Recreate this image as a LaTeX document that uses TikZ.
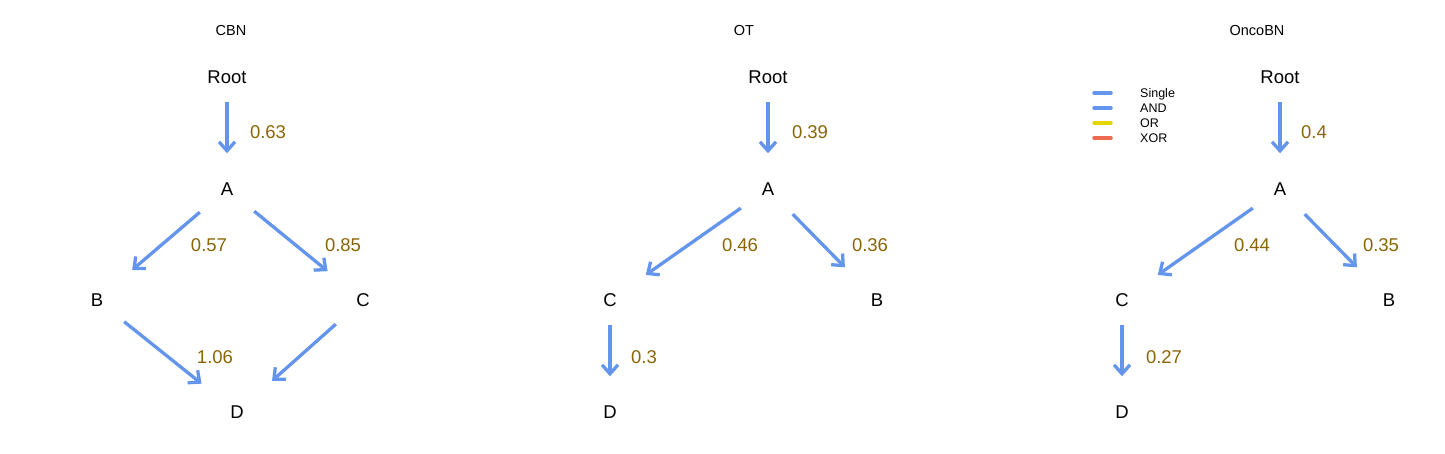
\documentclass[tikz,border=0pt]{standalone}
\usepackage{fontspec}
\setmainfont{Liberation Sans}
\usetikzlibrary{arrows.meta}
\definecolor{edgeblue}{HTML}{6495ED}
\definecolor{lblbrown}{HTML}{8B6508}
\definecolor{oryellow}{HTML}{E5D500}
\definecolor{xorred}{HTML}{EE6A50}
\begin{document}
\begin{tikzpicture}[x=1pt,y=-1pt,
  gnode/.style={rectangle,draw=none,minimum width=54pt,minimum height=50pt,inner sep=0pt,font=\fontsize{18.5}{20}\selectfont},
  edge/.style={draw=edgeblue,line width=3.3pt,shorten >=10.5pt,-{Straight Barb[length=9pt,width=16pt,line width=3.3pt]}},
  elabel/.style={text=lblbrown,font=\fontsize{18.5}{20}\selectfont},
  ptitle/.style={font=\fontsize{14.5}{16}\selectfont},
  legline/.style={line width=3.5pt,line cap=round},
  legtext/.style={anchor=base west,font=\fontsize{12.5}{14}\selectfont,inner sep=0pt}]
\useasboundingbox (0,0) rectangle (1445,454);
% ---------- CBN ----------
\node[ptitle] (t1) at (231,31) {CBN};
\node[gnode] (r1) at (227,77) {Root};
\node[gnode] (a1) at (227,189) {A};
\node[gnode] (b1) at (97,300) {B};
\node[gnode] (c1) at (363,300) {C};
\node[gnode] (d1) at (237,412) {D};
\draw[edge] (r1) -- (a1);
\draw[edge] (a1) -- (b1);
\draw[edge] (a1) -- (c1);
\draw[edge] (b1) -- (d1);
\draw[edge] (c1) -- (d1);
\node[elabel] (l1a) at (268,132) {0.63};
\node[elabel] (l1b) at (209,245) {0.57};
\node[elabel] (l1c) at (343,245) {0.85};
\node[elabel] (l1d) at (215,357) {1.06};
% ---------- OT ----------
\node[ptitle] (t2) at (744,31) {OT};
\node[gnode] (r2) at (768,77) {Root};
\node[gnode] (a2) at (768,189) {A};
\node[gnode] (c2) at (610,300) {C};
\node[gnode] (b2) at (877,300) {B};
\node[gnode] (d2) at (610,412) {D};
\draw[edge] (r2) -- (a2);
\draw[edge] (a2) -- (c2);
\draw[edge] (a2) -- (b2);
\draw[edge] (c2) -- (d2);
\node[elabel] (l2a) at (810,132) {0.39};
\node[elabel] (l2b) at (740,245) {0.46};
\node[elabel] (l2c) at (870,245) {0.36};
\node[elabel] (l2d) at (644,357) {0.3};
% ---------- OncoBN ----------
\node[ptitle] (t3) at (1257,31) {OncoBN};
\node[gnode] (r3) at (1280,77) {Root};
\node[gnode] (a3) at (1280,189) {A};
\node[gnode] (c3) at (1122,300) {C};
\node[gnode] (b3) at (1389,300) {B};
\node[gnode] (d3) at (1122,412) {D};
\draw[edge] (r3) -- (a3);
\draw[edge] (a3) -- (c3);
\draw[edge] (a3) -- (b3);
\draw[edge] (c3) -- (d3);
\node[elabel] (l3a) at (1314,132) {0.4};
\node[elabel] (l3b) at (1252,245) {0.44};
\node[elabel] (l3c) at (1381,245) {0.35};
\node[elabel] (l3d) at (1164,357) {0.27};
% ---------- legend ----------
\coordinate (g1a) at (1094,93);  \coordinate (g1b) at (1111,93);
\coordinate (g2a) at (1094,108); \coordinate (g2b) at (1111,108);
\coordinate (g3a) at (1094,123); \coordinate (g3b) at (1111,123);
\coordinate (g4a) at (1094,138); \coordinate (g4b) at (1111,138);
\draw[legline,edgeblue] (g1a) -- (g1b);
\draw[legline,edgeblue] (g2a) -- (g2b);
\draw[legline,oryellow] (g3a) -- (g3b);
\draw[legline,xorred] (g4a) -- (g4b);
\node[legtext] (s1) at (1140,97.5) {Single};
\node[legtext] (s2) at (1140,112.5) {AND};
\node[legtext] (s3) at (1140,127.5) {OR};
\node[legtext] (s4) at (1140,142.5) {XOR};
\end{tikzpicture}
\end{document}
